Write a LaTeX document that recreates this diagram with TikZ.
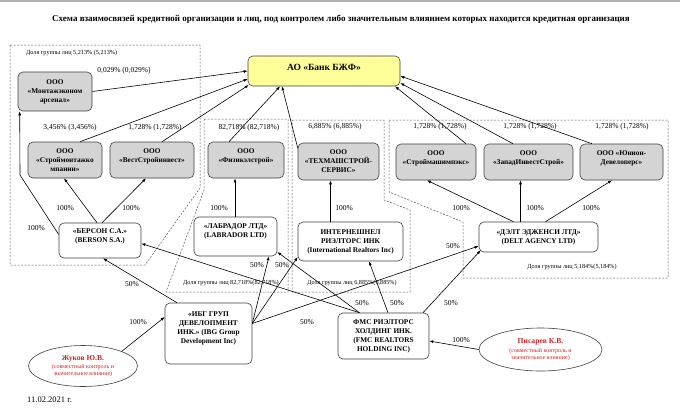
\documentclass[tikz,border=0pt]{standalone}
\usepackage{fontspec}
\setmainfont{Liberation Serif}
\usetikzlibrary{arrows.meta,shapes.geometric}
\definecolor{boxgray}{HTML}{D4D4D4}
\definecolor{bankyel}{HTML}{FFFF99}
\definecolor{persred}{HTML}{D42020}
\begin{document}
\begin{tikzpicture}[x=1pt,y=-1pt,
 box/.style={draw=black!75, line width=0.6pt, rounded corners=5pt, align=center, font=\fontsize{7.3}{9}\selectfont\bfseries, inner sep=1pt},
 gbox/.style={box, fill=boxgray},
 wbox/.style={box, fill=white},
 pct/.style={font=\fontsize{7.5}{9}\selectfont, inner sep=0pt},
 grp/.style={draw=black!65, line width=0.5pt, dash pattern=on 2pt off 1.5pt},
 glab/.style={font=\fontsize{6.2}{7}\selectfont, inner sep=0pt},
 arr/.style={-{Latex[length=4pt,width=3pt]}, line width=0.6pt},
 person/.style={ellipse, draw=black!75, line width=0.6pt, fill=white, inner sep=0pt, align=center, text=persred, font=\fontsize{6}{7}\selectfont}
]
\useasboundingbox (0,0) rectangle (680,416);
\fill[white] (0,0) rectangle (680,416);
\fill[black!30] (0,0) rectangle (680,2);

% title
\node[font=\fontsize{9}{10}\selectfont\bfseries, inner sep=0pt] (title) at (341,19) {Схема взаимосвязей кредитной организации и лиц, под контролем либо значительным влиянием которых находится кредитная организация};

% group outlines
\draw[grp] (10,45) -- (200,45) -- (200,188) -- (145,265) -- (10,265) -- cycle;
\draw[grp] (204,119) -- (288,119) -- (288,292) -- (166,292) -- (204,190) -- cycle;
\draw[grp] (292,120) -- (384,120) -- (384,200) -- (410,210) -- (410,292) -- (292,292) -- cycle;
\draw[grp] (389,120) -- (668,120) -- (668,278) -- (463,278) -- (463,222) -- (389,192) -- cycle;

\node[glab, anchor=west] (g1) at (26,53) {Доля группы лиц 5,213\% (5,213\%)};
\node[glab] (g2) at (231,283) {Доля группы лиц 82,718\%(82,718\%)};
\node[glab] (g3) at (352,283) {Доля группы лиц 6,885\%(6,885\%)};
\node[glab] (g4) at (572,267) {Доля группы лиц 5,184\%(5,184\%)};

% nodes
\node[box, fill=bankyel, minimum width=152pt, minimum height=30pt, font=\fontsize{9.5}{11}\selectfont\bfseries] (bank) at (324,71) {АО «Банк БЖФ»\\[-4pt]\mbox{}};

\node[gbox, minimum width=74pt, minimum height=39pt] (montaz) at (55,91.5) {ООО\\«Монтажэконом\\арсенал»};
\node[gbox, minimum width=74pt, minimum height=36pt] (stroimont) at (65,160) {ООО\\«Строймонтажко\\мпании»};
\node[gbox, minimum width=84pt, minimum height=36pt] (vest) at (152,160) {ООО\\«ВестСтройинвест»\\\mbox{}};
\node[gbox, minimum width=76pt, minimum height=36pt] (fizik) at (246,160) {ООО\\«Физикэлстрой»\\\mbox{}};
\node[gbox, minimum width=81pt, minimum height=37pt] (tehmash) at (338.5,161.5) {ООО\\«ТЕХМАШСТРОЙ-\\СЕРВИС»};
\node[gbox, minimum width=80pt, minimum height=36pt] (stroimash) at (436,162) {ООО\\«Строймашимпэкс»\\\mbox{}};
\node[gbox, minimum width=89pt, minimum height=36pt] (zapad) at (528.5,162) {ООО\\«ЗападИнвестСтрой»\\\mbox{}};
\node[gbox, minimum width=83pt, minimum height=36pt] (union) at (621.5,162) {ООО «Юнион-\\Девелоперс»\\\mbox{}};

\node[wbox, minimum width=82pt, minimum height=35pt] (berson) at (100,240.5) {«БЕРСОН С.А.»\\(BERSON S.A.)\\\mbox{}};
\node[wbox, minimum width=83pt, minimum height=39pt] (labrador) at (235.5,236.5) {«ЛАБРАДОР ЛТД»\\(LABRADOR LTD)\\[2pt]\mbox{}};
\node[wbox, minimum width=105pt, minimum height=39pt] (intl) at (350.5,241.5) {ИНТЕРНЕШНЕЛ\\РИЭЛТОРС ИНК\\(International Realtors Inc)};
\node[wbox, minimum width=119pt, minimum height=30pt] (delt) at (538.5,237) {«ДЭЛТ ЭДЖЕНСИ ЛТД»\\(DELT AGENCY LTD)};
\node[wbox, minimum width=87pt, minimum height=61pt] (ibg) at (208.5,333.5) {«ИБГ ГРУП\\ДЕВЕЛОПМЕНТ\\ИНК.» (IBG Group\\Development Inc)\\[2pt]\mbox{}};
\node[wbox, minimum width=91pt, minimum height=46pt] (fmc) at (383.5,336) {ФМС РИЭЛТОРС\\ХОЛДИНГ ИНК.\\(FMC REALTORS\\HOLDING INC)};

\node[person, minimum width=109pt, minimum height=41pt] (zhukov) at (83,366) {{\fontsize{7.6}{9}\selectfont\bfseries Жуков Ю.В.}\\[1.5pt](совместный контроль и\\значительное влияние)};
\node[person, minimum width=123pt, minimum height=43pt] (pisarev) at (540.5,349.5) {{\fontsize{7.6}{9}\selectfont\bfseries Писарев К.В.}\\[1.5pt](совместный контроль и\\значительное влияние)};

\node[font=\fontsize{8.5}{10}\selectfont, inner sep=0pt, anchor=west] (date) at (27,400) {11.02.2021 г.};

% percentage labels
\node[pct] (p1) at (124,71) {0,029\% (0,029\%)};
\node[pct] (p2) at (70,128) {3,456\% (3,456\%)};
\node[pct] (p3) at (155,128) {1,728\% (1,728\%)};
\node[pct] (p4) at (249,128) {82,718\% (82,718\%)};
\node[pct] (p5) at (335,127) {6,885\% (6,885\%)};
\node[pct] (p6) at (440,127) {1,728\% (1,728\%)};
\node[pct] (p7) at (530,127) {1,728\% (1,728\%)};
\node[pct] (p8) at (622,127) {1,728\% (1,728\%)};

\node[pct] (h1) at (65,208) {100\%};
\node[pct] (h2) at (131,208) {100\%};
\node[pct] (h3) at (36,228) {100\%};
\node[pct] (h4) at (219,208) {100\%};
\node[pct] (h5) at (344,208) {100\%};
\node[pct] (h6) at (461,208) {100\%};
\node[pct] (h7) at (535,208) {100\%};
\node[pct] (h8) at (591,208) {100\%};
\node[pct] (h9) at (138,322) {100\%};
\node[pct] (h10) at (461,340) {100\%};

\node[pct] (f1) at (132,284) {50\%};
\node[pct] (f2) at (257,265) {50\%};
\node[pct] (f3) at (282,265) {50\%};
\node[pct] (f4) at (307,322) {50\%};
\node[pct] (f5) at (362,303) {50\%};
\node[pct] (f6) at (397,303) {50\%};
\node[pct] (f7) at (451,303) {50\%};
\node[pct] (f8) at (453,246) {50\%};

% connectors to bank
\draw[arr] (montaz.east) -- (bank.west);
\draw[arr] ([xshift=15pt]stroimont.north) -- ([yshift=-8pt]bank.west);
\draw[arr] ([xshift=10pt]vest.north) -- ([xshift=1pt,yshift=-14pt]bank.west);
\draw[arr] ([xshift=-17pt]fizik.north) -- ([xshift=-44pt]bank.south);
\draw[arr] ([yshift=13.5pt]tehmash.west) -- ([xshift=-42pt]bank.south);
\draw[arr] ([xshift=30pt]stroimash.north) -- ([xshift=71pt]bank.south);
\draw[arr] ([xshift=-15.5pt]zapad.north) -- ([yshift=-12pt]bank.east);
\draw[arr] ([xshift=-29.5pt]union.north) -- ([yshift=-5pt]bank.east);

% 100% owners
\coordinate (bend1) at (20,175);
\draw[arr] ([xshift=-3pt]berson.north) -- ([xshift=-1pt]stroimont.south);
\draw[arr] ([xshift=2pt]berson.north) -- ([xshift=-6pt]vest.south);
\draw[arr] ([yshift=6pt]berson.west) -- (bend1) -- ([xshift=2pt]montaz.south west);
\draw[arr] ([xshift=-0.5pt]labrador.north) -- ([xshift=-0.5pt]labrador.north |- fizik.south);
\draw[arr] ([xshift=-20pt]intl.north) -- ([xshift=-20pt]intl.north |- tehmash.south);
\draw[arr] ([xshift=-25pt]delt.north) -- ([xshift=-9pt]stroimash.south);
\draw[arr] ([xshift=-18pt]delt.north) -- ([xshift=-18pt]delt.north |- zapad.south);
\draw[arr] ([xshift=7pt]delt.north) -- ([xshift=-9.5pt]union.south);

% IBG
\draw[arr] ([xshift=-31.5pt]ibg.north) -- ([xshift=3pt]berson.south);
\draw[arr] ([yshift=10pt]ibg.east) -- ([xshift=33.5pt]labrador.south);
\draw[arr] ([yshift=10pt]ibg.east) -- ([yshift=-15.5pt]intl.west);
\draw[arr] ([yshift=10pt]ibg.east) -- ([yshift=-9pt]delt.west);

% FMC
\draw[arr] ([xshift=-24pt]fmc.north) -- ([yshift=-3pt]berson.east);
\draw[arr] ([xshift=-24pt]fmc.north) -- ([yshift=-15.5pt]labrador.east);
\draw[arr] ([xshift=4.5pt]fmc.north) -- ([xshift=18.5pt]intl.south);
\draw[arr] ([xshift=39.5pt]fmc.north) -- ([xshift=2pt,yshift=2pt]delt.south west);

% persons
\draw[arr] (zhukov.north east) -- ([yshift=16.5pt]ibg.west);
\draw[arr] (pisarev.west) -- ([yshift=-5pt]fmc.east);
\end{tikzpicture}
\end{document}
